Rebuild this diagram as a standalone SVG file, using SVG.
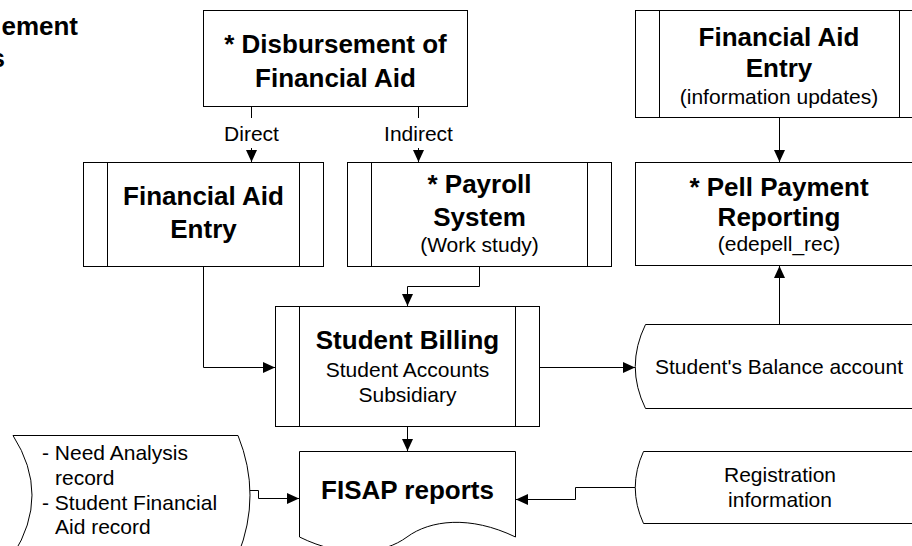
<svg xmlns="http://www.w3.org/2000/svg" width="912" height="546" viewBox="0 0 912 546">
<style>
.shape{fill:#fff;stroke:#000;stroke-width:1}
.ln{fill:none;stroke:#000;stroke-width:1}
.b{font-family:"Liberation Sans",Arial,sans-serif;font-weight:bold;font-size:26px;fill:#000;text-anchor:middle}
.r{font-family:"Liberation Sans",Arial,sans-serif;font-size:21px;fill:#000;text-anchor:middle}
.l{font-family:"Liberation Sans",Arial,sans-serif;font-size:21px;fill:#000}
</style>
<defs>
<marker id="arr" viewBox="0 0 12 11" refX="12" refY="5.5" markerWidth="12" markerHeight="11" markerUnits="userSpaceOnUse" orient="auto">
<path d="M0,0 L12,5.5 L0,11 z" fill="#000"/>
</marker>
</defs>
<rect width="912" height="546" fill="#fff"/>

<g id="title">
<text class="b" style="text-anchor:end" x="78" y="35">ement</text>
<text class="b" style="text-anchor:end" x="5" y="67">s</text>
</g>

<g id="disbursement">
<rect class="shape" x="203.5" y="10.5" width="264" height="96"/>
<text class="b" x="335.5" y="53">* Disbursement of</text>
<text class="b" x="335.5" y="87">Financial Aid</text>
</g>

<g id="fa-entry-left">
<rect class="shape" x="83.5" y="162.5" width="240" height="104"/>
<path class="ln" d="M107.5,162.5V266.5M299.5,162.5V266.5"/>
<text class="b" x="203.5" y="205">Financial Aid</text>
<text class="b" x="203.5" y="238">Entry</text>
</g>

<g id="payroll">
<rect class="shape" x="347.5" y="162.5" width="264" height="104"/>
<path class="ln" d="M371.5,162.5V266.5M587.5,162.5V266.5"/>
<text class="b" x="479.5" y="193">* Payroll</text>
<text class="b" x="479.5" y="226">System</text>
<text class="r" x="479.5" y="252">(Work study)</text>
</g>

<g id="fa-entry-right">
<rect class="shape" x="635.5" y="10.5" width="287" height="107"/>
<path class="ln" d="M659.5,10.5V117.5M899.5,10.5V117.5"/>
<text class="b" x="779" y="46">Financial Aid</text>
<text class="b" x="779" y="77">Entry</text>
<text class="r" x="779" y="104">(information updates)</text>
</g>

<g id="pell">
<rect class="shape" x="635.5" y="162.5" width="287" height="103"/>
<text class="b" x="779" y="196">* Pell Payment</text>
<text class="b" x="779" y="226">Reporting</text>
<text class="r" x="779" y="251">(edepell_rec)</text>
</g>

<g id="billing">
<rect class="shape" x="275.5" y="306.5" width="264" height="120"/>
<path class="ln" d="M299.5,306.5V426.5M515.5,306.5V426.5"/>
<text class="b" x="407.5" y="349">Student Billing</text>
<text class="r" x="407.5" y="377">Student Accounts</text>
<text class="r" x="407.5" y="402">Subsidiary</text>
</g>

<g id="balance">
<path class="shape" d="M925,324.5H645.5Q625,366.5 645.5,408.5H925"/>
<text class="r" x="779" y="374">Student's Balance account</text>
</g>

<g id="registration">
<path class="shape" d="M925,451.5H643.5Q627,487.5 643.5,523.5H925"/>
<text class="r" x="780" y="482">Registration</text>
<text class="r" x="780" y="507">information</text>
</g>

<g id="fisap">
<path class="shape" d="M299.5,451.5H515.5V537C470,515 430,520 407,537C384,554 344,559 299.5,537Z"/>
<text class="b" x="407.5" y="499">FISAP reports</text>
</g>

<g id="need-analysis">
<path class="shape" d="M13,435.5H238Q262,495 238,555H13Q51,495 13,435.5Z"/>
<text class="l" x="42" y="460">- Need Analysis</text>
<text class="l" x="55" y="485">record</text>
<text class="l" x="42" y="510">- Student Financial</text>
<text class="l" x="55" y="534">Aid record</text>
</g>

<g id="connectors">
<path class="ln" d="M251.5,107V118"/>
<text class="r" x="251.5" y="141">Direct</text>
<path class="ln" d="M251.5,148V162" marker-end="url(#arr)"/>
<path class="ln" d="M418.5,107V118"/>
<text class="r" x="418.5" y="141">Indirect</text>
<path class="ln" d="M418.5,148V162" marker-end="url(#arr)"/>
<path class="ln" d="M779.5,118V162" marker-end="url(#arr)"/>
<path class="ln" d="M203.5,266.5V367.5H275" marker-end="url(#arr)"/>
<path class="ln" d="M479.5,266.5V286.5H407.5V306" marker-end="url(#arr)"/>
<path class="ln" d="M539.5,367.5H635" marker-end="url(#arr)"/>
<path class="ln" d="M779.5,324V266" marker-end="url(#arr)"/>
<path class="ln" d="M407.5,426.5V451" marker-end="url(#arr)"/>
<path class="ln" d="M250,490.5H258.5V498.5H299" marker-end="url(#arr)"/>
<path class="ln" d="M635,487.5H575.5V499.5H516" marker-end="url(#arr)"/>
</g>
</svg>
